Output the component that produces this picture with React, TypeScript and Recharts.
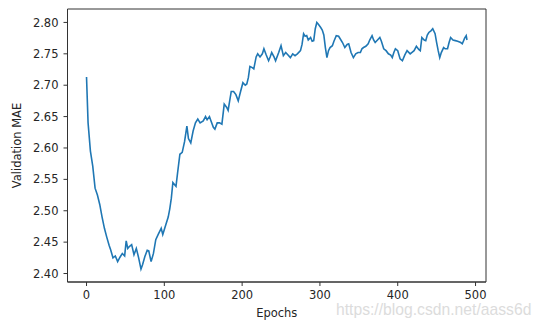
import React from 'react';
import { LineChart, Line, XAxis, YAxis, Label, ReferenceArea } from 'recharts';

const epochs: number[] = [
  0, 2, 5, 8, 11, 14, 17, 20, 23, 26, 29, 31, 34, 37, 40, 43, 46, 49, 51, 53,
  55, 58, 61, 64, 67, 70, 72, 75, 78, 80, 83, 86, 89, 92, 96, 98, 102, 105, 107, 109,
  111, 113, 115, 117, 120, 123, 126, 129, 131, 134, 137, 140, 143, 146, 150, 153, 155, 158, 160, 163,
  165, 168, 171, 174, 177, 180, 182, 186, 189, 192, 195, 198, 201, 204, 206, 208, 210, 213, 215, 218,
  220, 223, 226, 228, 231, 234, 236, 238, 241, 243, 247, 250, 253, 256, 259, 262, 265, 268, 271, 275,
  277, 279, 281, 283, 285, 288, 290, 292, 294, 296, 298, 301, 303, 305, 307, 309, 311, 313, 316, 318,
  321, 324, 326, 329, 332, 335, 337, 340, 343, 346, 349, 352, 354, 356, 359, 362, 364, 367, 369, 371,
  374, 377, 379, 382, 385, 388, 391, 393, 395, 397, 400, 403, 406, 409, 412, 416, 418, 421, 424, 427,
  429, 431, 434, 436, 438, 440, 443, 445, 448, 450, 452, 454, 456, 459, 461, 464, 466, 468, 471, 474,
  477, 481, 483, 486, 488, 489,
];

const mae: number[] = [
  2.713, 2.640, 2.595, 2.571, 2.536, 2.525, 2.510, 2.490, 2.472, 2.458, 2.445, 2.438, 2.425, 2.428, 2.419, 2.426, 2.432, 2.428, 2.452, 2.440,
  2.443, 2.446, 2.430, 2.440, 2.425, 2.407, 2.414, 2.427, 2.437, 2.436, 2.419, 2.432, 2.454, 2.462, 2.472, 2.462, 2.478, 2.490, 2.503, 2.520,
  2.545, 2.542, 2.539, 2.560, 2.590, 2.593, 2.610, 2.635, 2.615, 2.608, 2.627, 2.640, 2.646, 2.640, 2.643, 2.650, 2.645, 2.650, 2.643, 2.633,
  2.630, 2.640, 2.640, 2.638, 2.670, 2.665, 2.660, 2.690, 2.690, 2.685, 2.675, 2.690, 2.704, 2.700, 2.702, 2.712, 2.730, 2.728, 2.726, 2.745,
  2.750, 2.745, 2.750, 2.758, 2.748, 2.739, 2.745, 2.752, 2.745, 2.739, 2.752, 2.763, 2.747, 2.752, 2.748, 2.744, 2.750, 2.747, 2.750, 2.755,
  2.765, 2.782, 2.778, 2.779, 2.772, 2.776, 2.770, 2.771, 2.790, 2.800, 2.797, 2.792, 2.788, 2.780, 2.760, 2.744, 2.755, 2.760, 2.763, 2.770,
  2.779, 2.778, 2.774, 2.768, 2.760, 2.765, 2.766, 2.752, 2.744, 2.750, 2.752, 2.752, 2.758, 2.760, 2.762, 2.766, 2.772, 2.779, 2.772, 2.768,
  2.772, 2.776, 2.770, 2.758, 2.755, 2.750, 2.748, 2.744, 2.752, 2.758, 2.755, 2.742, 2.739, 2.748, 2.755, 2.750, 2.752, 2.755, 2.762, 2.757,
  2.755, 2.776, 2.772, 2.771, 2.780, 2.784, 2.787, 2.790, 2.782, 2.768, 2.755, 2.744, 2.752, 2.760, 2.758, 2.758, 2.768, 2.776, 2.772, 2.771,
  2.770, 2.768, 2.766, 2.775, 2.779, 2.772,
];

const xTicks: number[] = [0, 100, 200, 300, 400, 500];
const yTicks: number[] = [2.4, 2.45, 2.5, 2.55, 2.6, 2.65, 2.7, 2.75, 2.8];
const xDomain: [number, number] = [-24.45, 513.45];
const yDomain: [number, number] = [2.3865, 2.8214];

const data = epochs.map((e, i) => ({ epoch: e, mae: mae[i] }));

const FONT = '"DejaVu Sans", sans-serif';
const tickStyle = { fontSize: 11.5, fill: '#262626', fontFamily: FONT };
const axisColor = '#333333';

export default function App() {
  return (
    <div style={{ position: 'absolute', left: 0, top: 0, width: 540, height: 326, background: '#fff' }}>
      <LineChart
        width={540}
        height={326}
        data={data}
        margin={{ top: 9, right: 54, bottom: 0, left: 0 }}
      >
        <XAxis
          dataKey="epoch"
          type="number"
          domain={xDomain}
          ticks={xTicks}
          allowDataOverflow
          height={44}
          tickSize={4}
          tickMargin={5}
          tick={tickStyle}
          tickLine={{ stroke: axisColor }}
          axisLine={{ stroke: axisColor }}
          tickFormatter={(v: number) => String(v)}
        >
          <Label
            content={(props: any) => {
              const vb = props.viewBox || {};
              return (
                <text
                  x={vb.x + vb.width / 2}
                  y={317}
                  textAnchor="middle"
                  fontSize={11.5}
                  fill="#262626"
                  fontFamily={FONT}
                >
                  Epochs
                </text>
              );
            }}
          />
        </XAxis>
        <YAxis
          type="number"
          domain={yDomain}
          ticks={yTicks}
          allowDataOverflow
          width={67.5}
          tickSize={4}
          tickMargin={5}
          tick={tickStyle}
          tickLine={{ stroke: axisColor }}
          axisLine={{ stroke: axisColor }}
          tickFormatter={(v: number) => v.toFixed(2)}
        >
          <Label
            content={(props: any) => {
              const vb = props.viewBox || {};
              const cy = vb.y + vb.height / 2;
              return (
                <text
                  x={17}
                  y={cy}
                  textAnchor="middle"
                  dominantBaseline="central"
                  transform={`rotate(-90, 17, ${cy})`}
                  fontSize={11.5}
                  fill="#262626"
                  fontFamily={FONT}
                >
                  Validation MAE
                </text>
              );
            }}
          />
        </YAxis>
        <ReferenceArea
          x1={xDomain[0]}
          x2={xDomain[1]}
          y1={yDomain[0]}
          y2={yDomain[1]}
          fill="none"
          fillOpacity={0}
          stroke={axisColor}
          strokeWidth={1}
          ifOverflow="visible"
        />
        <Line
          type="linear"
          dataKey="mae"
          stroke="#1f77b4"
          strokeWidth={1.6}
          dot={false}
          isAnimationActive={false}
        />
      </LineChart>
      <div
        style={{
          position: 'absolute',
          left: 336,
          top: 301,
          fontFamily: '"Liberation Sans", Arial, sans-serif',
          fontSize: 15.7,
          color: '#dcdcdc',
          whiteSpace: 'nowrap',
          lineHeight: '18px',
        }}
      >
        https://blog.csdn.net/aass6d
      </div>
    </div>
  );
}
